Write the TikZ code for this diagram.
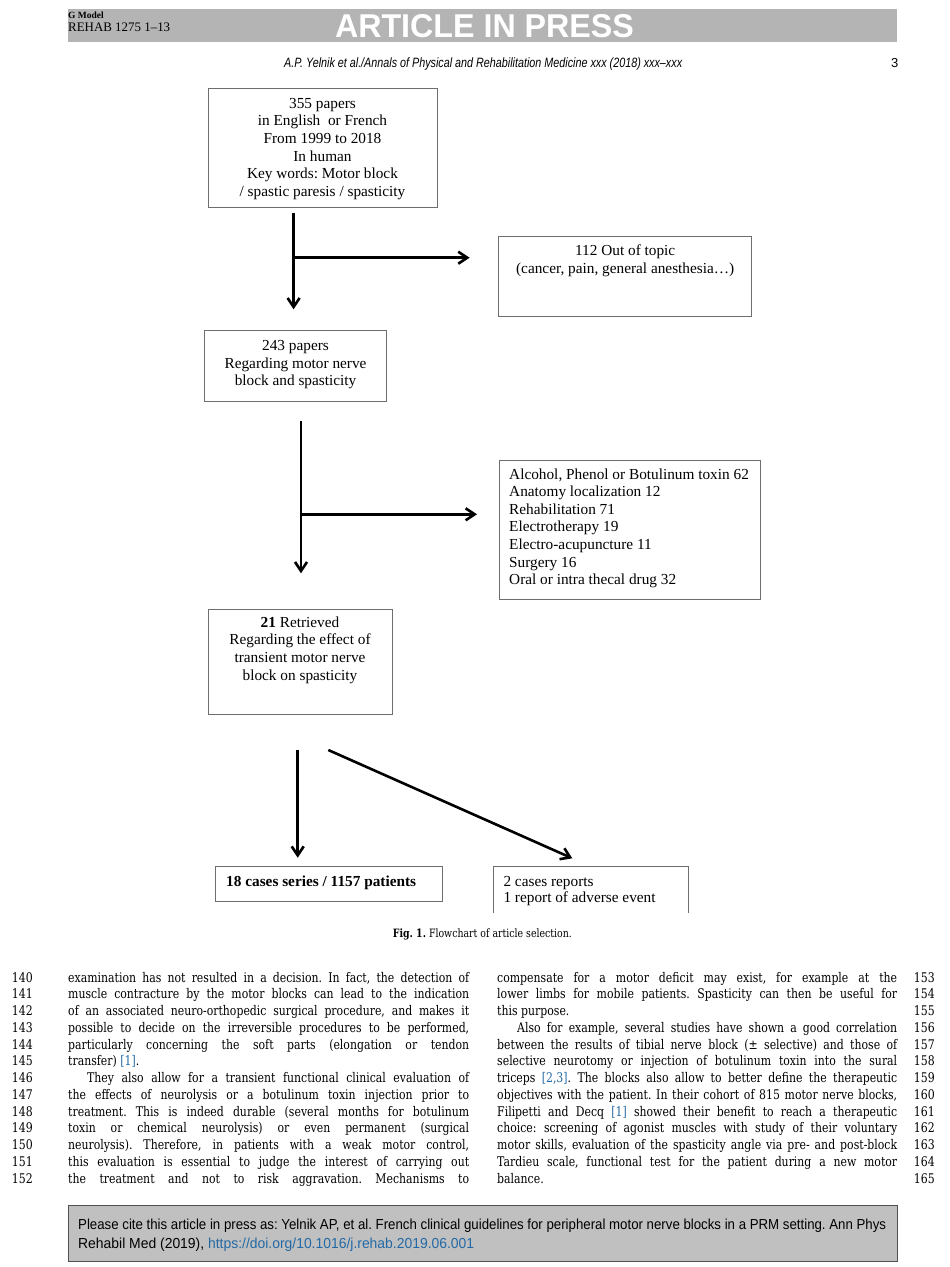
\documentclass[tikz,border=0pt]{standalone}
\usepackage{fontspec}
\usepackage{graphicx}
\setmainfont{Liberation Serif}
\newfontfamily\bodyfont{DejaVu Serif}[FakeStretch=0.82]
\newfontfamily\hdrfont{Liberation Sans}
\usetikzlibrary{arrows.meta}
\definecolor{bandgray}{RGB}{180,180,180}
\definecolor{footgray}{RGB}{192,192,192}
\definecolor{footline}{RGB}{80,80,80}
\definecolor{boxgray}{RGB}{110,110,110}
\definecolor{linkblue}{RGB}{35,105,165}
\newsavebox\fitbox
\newlength\fitlen
\newcommand\fitto[2]{\sbox\fitbox{#2}\setlength\fitlen{\wd\fitbox}\pgfmathsetmacro\fitratio{#1/\fitlen}\scalebox{\fitratio}[1]{\usebox\fitbox}}
\newcommand\jl[1]{\hbox to\linewidth{#1}}
\newcommand\lk[1]{\textcolor{linkblue}{#1}}
\frenchspacing
\tikzset{
  boxline/.style={draw=boxgray, line width=0.8pt},
  fcbox/.style={boxline, inner sep=0pt, outer sep=0pt},
  ftext/.style={inner sep=0pt, font=\fontsize{15.3}{17.65}\selectfont},
  flow/.style={line width=2.6pt, -{Straight Barb[length=9pt,width=12pt]}},
  bodytxt/.style={inner sep=0pt, anchor=base west, font=\bodyfont\frenchspacing\fontsize{13.3}{16.75}\selectfont},
  lnum/.style={inner sep=0pt, anchor=base east, font=\bodyfont\fontsize{13.3}{16.75}\selectfont},
}
\begin{document}
\begin{tikzpicture}[x=1pt,y=-1pt]
\fill[white] (0,0) rectangle (950,1267);
\useasboundingbox (0,0) rectangle (950,1267);

% ---------- header ----------
\node[fill=bandgray, minimum width=829pt, minimum height=33pt, inner sep=0pt] (band) at (482.5,25.5) {};
\node[inner sep=0pt, anchor=base, text=white, font=\hdrfont\bfseries\fontsize{33}{34}\selectfont] (aip) at (484.5,37.5) {\fitto{299}{ARTICLE IN PRESS}};
\node[inner sep=0pt, anchor=base west, font=\bfseries\fontsize{9.5}{10}\selectfont] (gmodel) at (68,18.5) {G Model};
\node[inner sep=0pt, anchor=base west, font=\fontsize{13}{14}\selectfont] (rehab) at (68,31.5) {\fitto{102}{REHAB 1275 1–13}};
\node[inner sep=0pt, anchor=base west, font=\hdrfont\itshape\fontsize{13.5}{14}\selectfont] (jrnl) at (284,67.5) {\fitto{398}{A.P. Yelnik et al./Annals of Physical and Rehabilitation Medicine xxx (2018) xxx–xxx}};
\node[inner sep=0pt, anchor=base west, font=\hdrfont\fontsize{13}{14}\selectfont] (pageno) at (891,67.5) {3};

% ---------- flowchart boxes ----------
\node[fcbox, minimum width=229pt, minimum height=119pt] (b1) at (322.5,147.8) {};
\node[ftext, anchor=base] (t1) at (322.5,108.3) {\parbox[t]{240pt}{\centering 355 papers\\in English\ \ or French\\From 1999 to 2018\\In human\\Key words: Motor block\\/ spastic paresis / spasticity}};

\node[fcbox, minimum width=253.2pt, minimum height=79.3pt] (b2) at (625.2,276.35) {};
\node[ftext, anchor=base] (t2) at (625.2,255.7) {\parbox[t]{250pt}{\centering 112 Out of topic\\(cancer, pain, general anesthesia…)}};

\node[fcbox, minimum width=182.5pt, minimum height=71pt] (b3) at (295.55,366.2) {};
\node[ftext, anchor=base] (t3) at (295.55,350.5) {\parbox[t]{182pt}{\centering 243 papers\\Regarding motor nerve\\block and spasticity}};

\node[fcbox, minimum width=261.1pt, minimum height=138.6pt] (b4) at (629.45,530) {};
\node[ftext, anchor=base west] (t4) at (509,479) {\parbox[t]{250pt}{\raggedright Alcohol, Phenol or Botulinum toxin 62\\Anatomy localization 12\\Rehabilitation 71\\Electrotherapy 19\\Electro-acupuncture 11\\Surgery 16\\Oral or intra thecal drug 32}};

\node[fcbox, minimum width=184pt, minimum height=104.7pt] (b5) at (300,661.65) {};
\node[ftext, anchor=base] (t5) at (300,627.3) {\parbox[t]{184pt}{\centering \textbf{21} Retrieved\\Regarding the effect of\\transient motor nerve\\block on spasticity}};

\node[fcbox, minimum width=227.7pt, minimum height=35pt] (b6) at (328.85,883.5) {};
\node[ftext, anchor=base west, font=\bfseries\fontsize{15.3}{17.65}\selectfont] (t6) at (226,886.7) {18 cases series / 1157 patients};

\node[inner sep=0pt, outer sep=0pt, minimum width=195pt, minimum height=47.3pt] (b7) at (590.8,889.65) {};
\draw[boxline] (b7.south west) |- (b7.north east) -- (b7.south east);
\node[ftext, anchor=base west, font=\fontsize{15.3}{16.7}\selectfont] (t7) at (503.3,886) {\parbox[t]{185pt}{\raggedright 2 cases reports\\1 report of adverse event}};

% ---------- arrows ----------
\coordinate (a1s) at (293.6,213.3);
\coordinate (a1e) at (293.6,309.3);
\coordinate (a1b) at (293.6,257.7);
\coordinate (a1h) at (469.6,257.7);
\draw[flow] (a1s) -- (a1e);
\draw[flow] (a1b) -- (a1h);

\coordinate (a2s) at (301,421);
\coordinate (a2e) at (301,573.3);
\coordinate (a2b) at (301,514.3);
\coordinate (a2h) at (477,514.3);
\draw[flow] (a2s) -- (a2e);
\draw[flow] (a2b) -- (a2h);

\coordinate (a3s) at (297.7,750);
\coordinate (a3e) at (297.7,857.7);
\coordinate (a3d) at (328.3,750);
\coordinate (a3f) at (572.3,858.3);
\draw[flow] (a3s) -- (a3e);
\draw[flow] (a3d) -- (a3f);

% ---------- caption ----------
\node[inner sep=0pt, anchor=base west, font=\bodyfont\fontsize{11.5}{12}\selectfont] (cap) at (392.7,937.3) {\fitto{179}{\textbf{Fig. 1.} Flowchart of article selection.}};

% ---------- body text ----------
\node[bodytxt] (colL) at (68,982) {\parbox[t]{401pt}{%
\jl{examination has not resulted in a decision. In fact, the detection of}
\jl{muscle contracture by the motor blocks can lead to the indication}
\jl{of an associated neuro-orthopedic surgical procedure, and makes it}
\jl{possible to decide on the irreversible procedures to be performed,}
\jl{particularly concerning the soft parts (elongation or tendon}
\hbox{transfer) \lk{[1]}.}
\jl{\hspace*{19pt}They also allow for a transient functional clinical evaluation of}
\jl{the effects of neurolysis or a botulinum toxin injection prior to}
\jl{treatment. This is indeed durable (several months for botulinum}
\jl{toxin or chemical neurolysis) or even permanent (surgical}
\jl{neurolysis). Therefore, in patients with a weak motor control,}
\jl{this evaluation is essential to judge the interest of carrying out}
\jl{the treatment and not to risk aggravation. Mechanisms to}}};

\node[bodytxt] (colR) at (497,982) {\parbox[t]{400pt}{%
\jl{compensate for a motor deficit may exist, for example at the}
\jl{lower limbs for mobile patients. Spasticity can then be useful for}
\hbox{this purpose.}
\jl{\hspace*{20pt}Also for example, several studies have shown a good correlation}
\jl{between the results of tibial nerve block (± selective) and those of}
\jl{selective neurotomy or injection of botulinum toxin into the sural}
\jl{triceps \lk{[2,3]}. The blocks also allow to better define the therapeutic}
\jl{objectives with the patient. In their cohort of 815 motor nerve blocks,}
\jl{Filipetti and Decq \lk{[1]} showed their benefit to reach a therapeutic}
\jl{choice: screening of agonist muscles with study of their voluntary}
\jl{motor skills, evaluation of the spasticity angle via pre- and post-block}
\jl{Tardieu scale, functional test for the patient during a new motor}
\hbox{balance.}}};

\foreach \i in {0,...,12} {
  \pgfmathtruncatemacro\numL{140+\i}
  \pgfmathtruncatemacro\numR{153+\i}
  \node[lnum] (ln\numL) at (33,{982+16.75*\i}) {\numL};
  \node[lnum] (ln\numR) at (935,{982+16.75*\i}) {\numR};
}

% ---------- footer ----------
\node[fill=footgray, draw=footline, line width=1pt, minimum width=829pt, minimum height=56pt, inner sep=0pt] (foot) at (482.5,1233) {};
\node[inner sep=0pt, anchor=base west, font=\hdrfont\fontsize{14.5}{15}\selectfont] (cite1) at (78,1229) {\fitto{808}{Please cite this article in press as: Yelnik AP, et al. French clinical guidelines for peripheral motor nerve blocks in a PRM setting. Ann Phys}};
\node[inner sep=0pt, anchor=base west, font=\hdrfont\fontsize{14.5}{15}\selectfont] (cite2) at (78,1248) {\fitto{396}{Rehabil Med (2019), \lk{https://doi.org/10.1016/j.rehab.2019.06.001}}};
\end{tikzpicture}
\end{document}
